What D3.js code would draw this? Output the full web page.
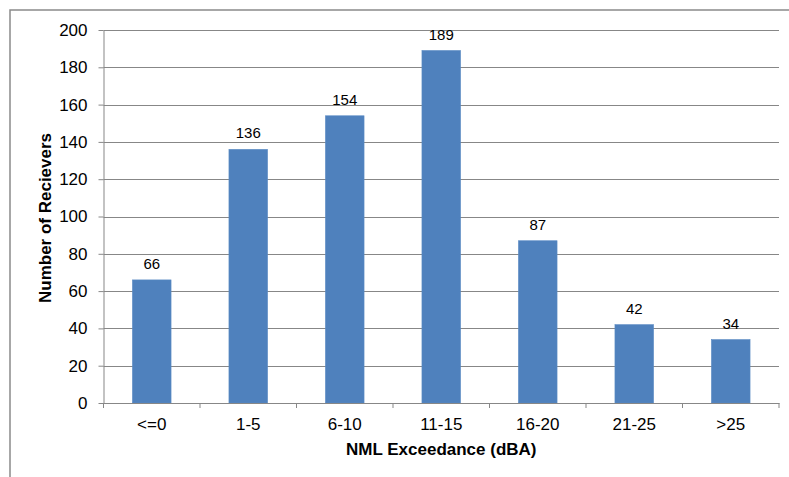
<!DOCTYPE html>
<html>
<head>
<meta charset="utf-8">
<script src="https://cdn.jsdelivr.net/npm/d3@7"></script>
<style>
  html, body { margin: 0; padding: 0; background: #fff; }
  svg { display: block; font-family: "Liberation Sans", Arial, sans-serif; }
</style>
</head>
<body>
<svg id="chart" width="789" height="477"></svg>
<script>
// Receivers by exceedance of the noise management level
const categories = ["<=0", "1-5", "6-10", "11-15", "16-20", "21-25", ">25"];
const receivers = [66, 136, 154, 189, 87, 42, 34];
const yTicks = [0, 20, 40, 60, 80, 100, 120, 140, 160, 180, 200];
const xTitle = "NML Exceedance (dBA)";
const yTitle = "Number of Recievers";

const svg = d3.select("#chart");
const plot = { left: 103.5, right: 779, top: 30, bottom: 403 };
const gridColor = "#878787";

// outer frame (right and bottom edges fall outside the view)
svg.append("rect")
  .attr("x", 10).attr("y", 10)
  .attr("width", 820).attr("height", 520)
  .attr("fill", "none")
  .attr("stroke", "#8a8a8a")
  .attr("stroke-width", 1.5);

const x = d3.scaleBand()
  .domain(categories)
  .range([plot.left, plot.right])
  .paddingInner(0.6)
  .paddingOuter(0.3);

const y = d3.scaleLinear()
  .domain([0, 200])
  .range([plot.bottom, plot.top]);

// horizontal gridlines
svg.append("g")
  .selectAll("line")
  .data(yTicks.filter(d => d > 0))
  .join("line")
  .attr("x1", plot.left).attr("x2", plot.right)
  .attr("y1", d => Math.round(y(d)) + 0.5)
  .attr("y2", d => Math.round(y(d)) + 0.5)
  .attr("stroke", gridColor)
  .attr("stroke-width", 1);

// bars
svg.append("g")
  .selectAll("rect")
  .data(receivers)
  .join("rect")
  .attr("x", (d, i) => x(categories[i]))
  .attr("y", d => y(d))
  .attr("width", x.bandwidth())
  .attr("height", d => y(0) - y(d))
  .attr("fill", "#4F81BD")
  .attr("stroke", "#5A8AC4")
  .attr("stroke-width", 0.6);

// value labels above bars
svg.append("g")
  .selectAll("text")
  .data(receivers)
  .join("text")
  .attr("x", (d, i) => x(categories[i]) + x.bandwidth() / 2)
  .attr("y", d => y(d) - 11)
  .attr("text-anchor", "middle")
  .attr("font-size", 15)
  .attr("fill", "#000")
  .text(d => d);

// y axis
const yAxis = svg.append("g")
  .attr("transform", `translate(${plot.left},0)`)
  .call(d3.axisLeft(y).tickValues(yTicks).tickSize(5).tickPadding(11).tickSizeOuter(0));
yAxis.select(".domain").attr("stroke", gridColor);
yAxis.selectAll(".tick line").attr("stroke", gridColor);
yAxis.selectAll(".tick text")
  .attr("font-size", 17)
  .attr("font-family", "Liberation Sans, Arial, sans-serif")
  .attr("fill", "#000");

// x axis: ticks sit on band boundaries
const xAxis = svg.append("g")
  .attr("transform", `translate(0,${plot.bottom})`)
  .call(d3.axisBottom(x).tickSize(0).tickPadding(15).tickSizeOuter(0));
xAxis.select(".domain").attr("stroke", gridColor);
xAxis.selectAll(".tick text")
  .attr("font-size", 17)
  .attr("font-family", "Liberation Sans, Arial, sans-serif")
  .attr("fill", "#000");

const boundaries = d3.range(categories.length + 1).map(i => plot.left + (plot.right - plot.left) * i / categories.length);
svg.append("g")
  .selectAll("line")
  .data(boundaries)
  .join("line")
  .attr("x1", d => d).attr("x2", d => d)
  .attr("y1", plot.bottom).attr("y2", plot.bottom + 5)
  .attr("stroke", gridColor);

// axis titles
svg.append("text")
  .attr("x", (plot.left + plot.right) / 2)
  .attr("y", 455)
  .attr("text-anchor", "middle")
  .attr("font-size", 17)
  .attr("font-weight", "bold")
  .attr("fill", "#000")
  .text(xTitle);

svg.append("text")
  .attr("transform", "translate(51,218) rotate(-90)")
  .attr("text-anchor", "middle")
  .attr("font-size", 17)
  .attr("font-weight", "bold")
  .attr("fill", "#000")
  .text(yTitle);
</script>
</body>
</html>
